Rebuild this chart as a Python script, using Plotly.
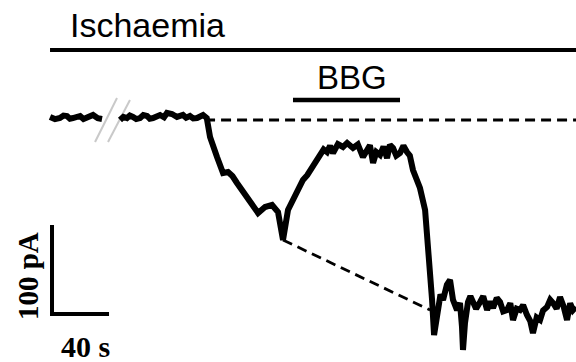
import plotly.graph_objects as go

# ---- data (time in s, current in pA, baseline = 0 pA) ----
# pre-break baseline
t_pre = [0.0, 3.5, 7.0, 9.5, 11.9, 14.0, 16.1, 18.6, 21.1, 23.5, 26.0, 28.0, 30.2, 33.5, 36.5]
i_pre = [3.4, 1.0, 2.2, 5.0, 4.5, 1.5, 2.2, 4.0, 4.5, 1.0, 2.2, 4.8, 5.6, 2.0, 1.1]

# main recording after the break
t_main = [49.1, 51.5, 54.0, 56.0, 58.2, 60.5, 63.2, 65.5, 68.1, 70.0, 72.3, 75.0, 77.2, 80.0,
          82.1, 85.6, 89.1, 93.3, 95.5, 98.2, 100.5, 103.2, 105.5, 107.4, 110.0,
          112.3, 117.2, 121.4, 124.9, 128.0, 131.2, 136.8, 142.5, 146.0, 150.9, 155.8, 160.0,
          163.5, 167.0, 173.3, 177.5, 180.5, 183.9, 186.5, 189.5, 192.0, 194.4, 196.5, 198.6,
          202.0, 205.6, 208.5, 212.6, 216.0, 219.6, 222.5, 224.5, 226.7, 229.0, 231.6, 234.0,
          236.5, 238.5, 240.7, 243.0, 245.6, 248.0, 250.5, 252.5, 254.7, 259.6, 263.2, 265.3,
          268.1, 269.5, 271.6, 274.0, 275.8, 278.5, 280.7, 282.8, 285.6, 287.7,
          289.1, 289.8, 291.2, 293.3, 295.0, 296.8, 299.0, 301.8, 304.0, 306.7, 309.0, 310.9,
          313.5, 315.8, 318.0, 320.7, 323.0, 324.9, 327.5, 329.8, 332.0, 334.7, 337.0, 338.9,
          341.5, 343.9, 346.0, 348.8, 351.0, 353.0, 355.5, 357.9, 360.5, 362.8, 365.0, 367.0, 369.0]
i_main = [0.0, 3.5, 2.2, 5.0, 3.4, 1.0, 2.2, 5.5, 4.5, 1.5, 2.2, 4.5, 5.6, 3.0,
          7.9, 6.7, 3.4, 5.6, 2.5, 4.5, 1.8, 2.2, 5.0, 5.6, 2.2,
          -19.1, -41.6, -59.6, -58.4, -63.0, -70.8, -84.3, -98.9, -104.5, -97.8, -95.5, -103.4,
          -134.8, -101.1, -80.9, -67.4, -62.0, -53.9, -48.0, -39.3, -33.0, -36.0, -29.0, -37.1,
          -27.0, -30.3, -25.8, -31.5, -27.5, -41.6, -33.7, -28.5, -48.3, -36.0, -39.3, -30.0,
          -42.7, -28.0, -31.5, -40.0, -37.1, -29.0, -36.0, -40.0, -56.2, -76.4, -101.1, -138.2,
          -202.2, -241.6, -216.9, -196.0, -202.2, -185.0, -179.8, -202.2, -213.5, -205.6,
          -232.6, -258.4, -228.1, -204.5, -198.0, -205.6, -212.0, -204.5, -198.0, -213.5, -204.0, -211.2,
          -200.0, -204.5, -215.0, -213.5, -206.0, -224.7, -212.0, -213.5, -208.0, -219.1, -226.0, -239.3,
          -222.0, -224.7, -214.0, -210.1, -202.0, -205.6, -212.0, -198.9, -210.0, -224.7, -206.0, -213.5, -210.0]

# reference (dashed) lines
t_base = [108.8, 369.1]
i_base = [0.0, 0.0]
t_diag = [163.5, 266.7]
i_diag = [-134.8, -213.5]

# condition bars
t_isch = [0.0, 369.1]
i_isch = [78.7, 78.7]
t_bbg = [170.5, 245.6]
i_bbg = [22.5, 22.5]

# break marks
t_sl1 = [47.0, 31.6]
i_sl1 = [24.7, -24.7]
t_sl2 = [56.1, 40.7]
i_sl2 = [22.5, -24.7]

# scale bar: 100 pA x 40 s
t_scale = [1.4, 1.4, 41.4]
i_scale = [-118.0, -218.0, -218.0]

fig = go.Figure()

def add(x, y, color="black", width=4.5, dash="solid"):
    fig.add_trace(go.Scatter(x=x, y=y, mode="lines", hoverinfo="skip",
                             line=dict(color=color, width=width, dash=dash)))

add(t_sl1, i_sl1, color="#c9c9c9", width=2)
add(t_sl2, i_sl2, color="#c9c9c9", width=2)
add(t_base, i_base, width=2.8, dash="10px,6px")
add(t_diag, i_diag, width=2.8, dash="10px,6px")
add(t_pre, i_pre, width=6)
add(t_main, i_main, width=6)
add(t_isch, i_isch, width=4)
add(t_bbg, i_bbg, width=4.5)
add(t_scale, i_scale, width=4)

sans = "Liberation Sans, Arial, sans-serif"
serif = "Liberation Serif, Times New Roman, serif"
fig.add_annotation(x=12.6, y=106.2, text="Ischaemia", showarrow=False, xanchor="left",
                   yanchor="middle", font=dict(family=sans, size=34, color="black"))
fig.add_annotation(x=211.6, y=47.8, text="BBG", showarrow=False, xanchor="center",
                   yanchor="middle", font=dict(family=sans, size=33, color="black"))
fig.add_annotation(x=-15.4, y=-175.3, text="<b>100 pA</b>", showarrow=False, textangle=-90,
                   xanchor="center", yanchor="middle", font=dict(family=serif, size=29, color="black"))
fig.add_annotation(x=24.6, y=-254.5, text="<b>40 s</b>", showarrow=False,
                   xanchor="center", yanchor="middle", font=dict(family=serif, size=30, color="black"))

fig.update_layout(width=576, height=362, margin=dict(l=0, r=0, t=0, b=0),
                  paper_bgcolor="white", plot_bgcolor="white", showlegend=False,
                  xaxis=dict(range=[-35.1, 369.1], visible=False, fixedrange=True),
                  yaxis=dict(range=[-271.9, 134.8], visible=False, fixedrange=True))
fig.write_html("out.html")
